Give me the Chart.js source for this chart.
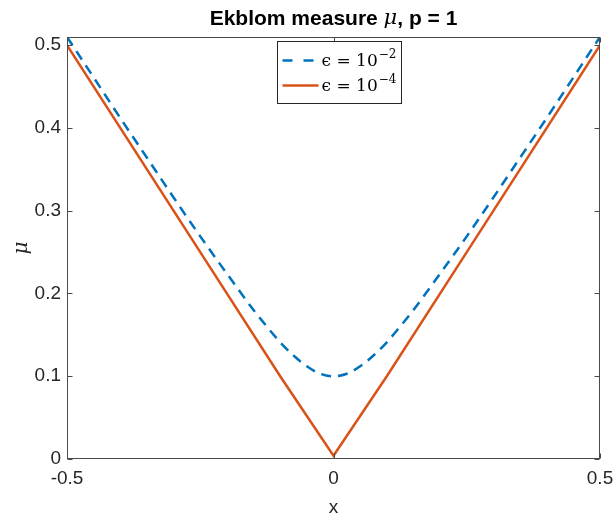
<!DOCTYPE html>
<html><head><meta charset="utf-8">
<script src="https://cdn.jsdelivr.net/npm/chart.js@4.4.1/dist/chart.umd.min.js"></script>
<style>html,body{margin:0;padding:0;background:#fff}#wrap{width:616px;height:515px}</style>
</head><body><div id="wrap"><canvas id="c" width="616" height="515"></canvas></div>
<script>
// Data
const xValsA = [-0.5,-0.45,-0.4,-0.35,-0.3,-0.25,-0.2,-0.15,-0.125,-0.1,-0.075,-0.05,-0.025,0,0.025,0.05,0.075,0.1,0.125,0.15,0.2,0.25,0.3,0.35,0.4,0.45,0.5];
const muEps2 = [0.510,0.461,0.412,0.364,0.316,0.269,0.224,0.180,0.160,0.141,0.125,0.112,0.103,0.100,0.103,0.112,0.125,0.141,0.160,0.180,0.224,0.269,0.316,0.364,0.412,0.461,0.510];
const xValsB = [-0.5,-0.25,-0.1,0,0.1,0.25,0.5];
const muEps4 = [0.500,0.250,0.100,0.004,0.100,0.250,0.500];
const xTicks = [-0.5,0,0.5];
const yTicks = [0,0.1,0.2,0.3,0.4,0.5];
const seriesLabels = [["ϵ = 10","−2"],["ϵ = 10","−4"]];

const tickFont = {family:"'Liberation Sans', Arial, sans-serif", size:19};

const boxPlugin = {
  id:'boxTicks',
  afterDraw(chart){
    const {ctx, chartArea:a, scales} = chart;
    ctx.save();
    ctx.strokeStyle='#4a4a4a'; ctx.lineWidth=1;
    const L=Math.round(a.left)+0.5, R=Math.round(a.right)-0.5, T=Math.round(a.top)+0.5, B=Math.round(a.bottom)-0.5;
    ctx.strokeRect(L,T,R-L,B-T);
    ctx.beginPath();
    xTicks.forEach(v=>{const x=Math.round(scales.x.getPixelForValue(v))+0.5; ctx.moveTo(x,B); ctx.lineTo(x,B-5); ctx.moveTo(x,T); ctx.lineTo(x,T+5);});
    yTicks.forEach(v=>{const y=Math.round(scales.y.getPixelForValue(v))+0.5; ctx.moveTo(L,y); ctx.lineTo(L+5,y); ctx.moveTo(R,y); ctx.lineTo(R-5,y);});
    ctx.stroke();
    // title
    const cx=(a.left+a.right)/2, ty=19;
    const parts=[["Ekblom measure ","bold 21px 'Liberation Sans', Arial, sans-serif"],["μ","italic 21px 'DejaVu Serif', serif"],[", p = 1","bold 21px 'Liberation Sans', Arial, sans-serif"]];
    let w=0; parts.forEach(p=>{ctx.font=p[1]; w+=ctx.measureText(p[0]).width;});
    let x=cx-w/2; ctx.fillStyle='#000'; ctx.textBaseline='middle'; ctx.textAlign='left';
    parts.forEach(p=>{ctx.font=p[1]; ctx.fillText(p[0],x,ty); x+=ctx.measureText(p[0]).width;});
    // y label
    ctx.save(); ctx.translate(22,(a.top+a.bottom)/2); ctx.rotate(-Math.PI/2);
    ctx.font="italic 20px 'DejaVu Serif', serif"; ctx.fillStyle='#262626'; ctx.textAlign='center'; ctx.textBaseline='middle'; ctx.fillText('μ',0,0);
    ctx.restore();
    // legend
    const lx=277.5, ly=41.5, lw=124, lh=62;
    ctx.fillStyle='#fff'; ctx.fillRect(lx,ly,lw,lh);
    ctx.strokeStyle='#262626'; ctx.lineWidth=1; ctx.strokeRect(lx,ly,lw,lh);
    chart.data.datasets.forEach((ds,i)=>{
      const yy=ly+19+i*25;
      ctx.save(); ctx.strokeStyle=ds.borderColor; ctx.lineWidth=2.5; ctx.setLineDash(ds.borderDash?[10,11]:[]);
      ctx.beginPath(); ctx.moveTo(lx+5,yy); ctx.lineTo(lx+41,yy); ctx.stroke(); ctx.restore();
      ctx.fillStyle='#000'; ctx.textBaseline='middle';
      ctx.font="17px 'DejaVu Serif', serif";
      const t=seriesLabels[i];
      ctx.fillText(t[0],lx+44,yy+1);
      const tw=ctx.measureText(t[0]).width;
      ctx.font="12px 'DejaVu Serif', serif";
      ctx.fillText(t[1],lx+44+tw+1,yy-6);
    });
    ctx.restore();
  }
};

new Chart(document.getElementById('c'),{
  type:'line',
  data:{datasets:[
    {label:'ϵ = 10^-2', data:xValsA.map((x,i)=>({x,y:muEps2[i]})), borderColor:'#0072BD', borderWidth:2.5, borderDash:[10,7], pointRadius:0, tension:0.4, cubicInterpolationMode:'monotone', fill:false},
    {label:'ϵ = 10^-4', data:xValsB.map((x,i)=>({x,y:muEps4[i]})), borderColor:'#D95319', borderWidth:2.5, pointRadius:0, tension:0, fill:false}
  ]},
  options:{
    responsive:false, animation:false, devicePixelRatio:1,
    layout:{padding:{top:37,right:16,left:0,bottom:0}},
    plugins:{legend:{display:false}, title:{display:false}, tooltip:{enabled:false}},
    scales:{
      x:{type:'linear', min:-0.5, max:0.5, grid:{display:false, drawTicks:false}, border:{display:false},
        afterBuildTicks(s){s.ticks=xTicks.map(v=>({value:v}));},
        afterFit(s){s.height=56; s.paddingLeft=0; s.paddingRight=0;},
        ticks:{font:tickFont, color:'#262626', padding:8, maxRotation:0, callback:v=>String(v)},
        title:{display:true, text:'x', font:tickFont, color:'#262626', padding:{top:0,bottom:-4}}},
      y:{type:'linear', min:0, max:0.5099, grid:{display:false, drawTicks:false}, border:{display:false},
        afterBuildTicks(s){s.ticks=yTicks.map(v=>({value:v}));},
        afterFit(s){s.width=67; s.paddingTop=0; s.paddingBottom=0;},
        ticks:{font:tickFont, color:'#262626', padding:6, callback:v=>String(v)}}
    }
  },
  plugins:[boxPlugin]
});
</script></body></html>
